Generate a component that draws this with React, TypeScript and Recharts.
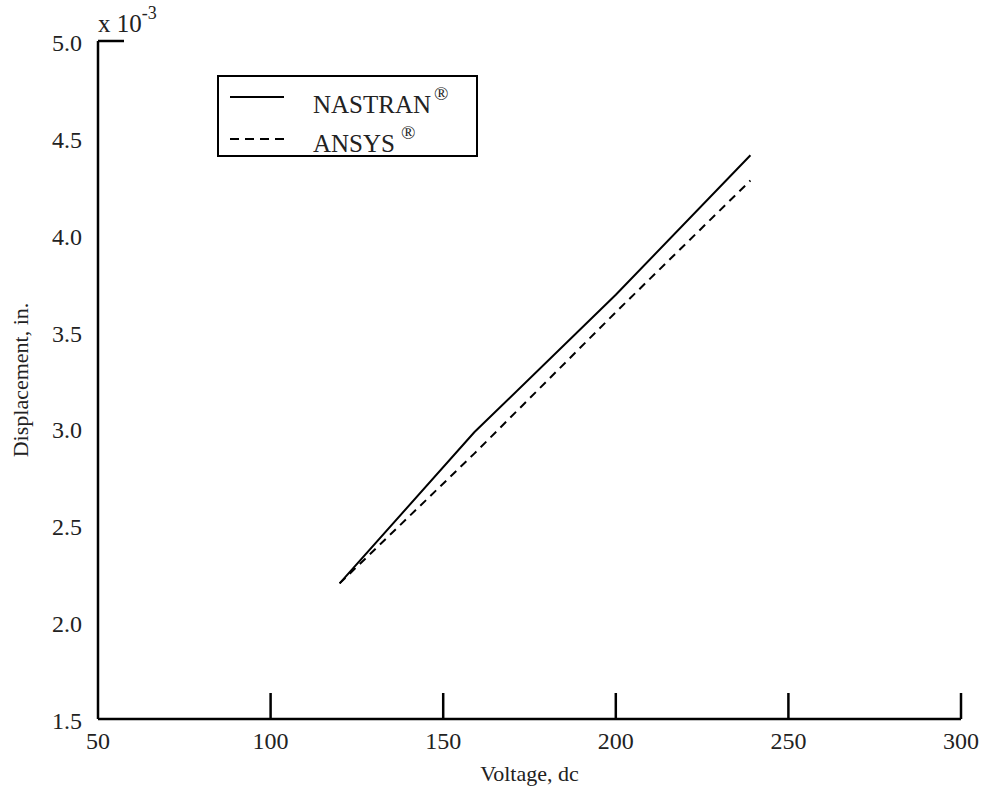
import { LineChart, Line, XAxis, YAxis } from "recharts";

const voltage = [120, 159, 200, 239];
const nastran = [2.2, 2.98, 3.69, 4.41];
const ansys = [2.2, 2.87, 3.6, 4.28];
const xTicks = [50, 100, 150, 200, 250, 300];
const yTicks = [1.5, 2.0, 2.5, 3.0, 3.5, 4.0, 4.5, 5.0];

const data = voltage.map((v, i) => ({ v, nastran: nastran[i], ansys: ansys[i] }));

const FONT = '"Liberation Serif", "DejaVu Serif", serif';
const TICK_LEN = 26;

const XTick = ({ x, y, payload }: any) => (
    <g>
        {payload.value !== 50 && (
            <line x1={x} x2={x} y1={y - TICK_LEN} y2={y} stroke="#000" strokeWidth={2.5} />
        )}
        <text x={x} y={y + 22} textAnchor="middle" dominantBaseline="central" fontSize={24} fontFamily={FONT} fill="#222">
            {payload.value}
        </text>
    </g>
);

const YTick = ({ x, y, payload }: any) => (
    <g>
        {payload.value === 5 && (
            <line x1={x} x2={x + TICK_LEN} y1={y} y2={y} stroke="#000" strokeWidth={2.5} />
        )}
        <text x={x - 16} y={y + 2} textAnchor="end" dominantBaseline="central" fontSize={24} fontFamily={FONT} fill="#222">
            {Number(payload.value).toFixed(1)}
        </text>
    </g>
);

// legend box and the x10^-3 multiplier, drawn on top of the chart
const Overlay = () => (
    <svg
        width={984}
        height={790}
        style={{ position: "absolute", left: 0, top: 0, pointerEvents: "none" }}
        fontFamily={FONT}
        fill="#222"
    >
        <text x={98} y={32} fontSize={25}>
            x 10
            <tspan dy={-13} fontSize={18}>-3</tspan>
        </text>
        <rect x={218} y={76} width={259} height={80} fill="#fff" stroke="#000" strokeWidth={2} />
        <line x1={230} x2={284} y1={97} y2={97} stroke="#000" strokeWidth={2} />
        <line x1={230} x2={284} y1={139} y2={139} stroke="#000" strokeWidth={2} strokeDasharray="9 6" />
        <text x={313} y={113} fontSize={25}>
            NASTRAN
            <tspan dx={3} dy={-13} fontSize={19}>®</tspan>
        </text>
        <text x={313} y={152} fontSize={25}>
            ANSYS
            <tspan dx={6} dy={-13} fontSize={19}>®</tspan>
        </text>
    </svg>
);

export default function App() {
    return (
        <div style={{ position: "absolute", left: 0, top: 0, width: 984, height: 790, background: "#fff" }}>
            <LineChart width={984} height={790} data={data} margin={{ top: 41, right: 23, bottom: 0, left: 0 }}>
                <XAxis
                    dataKey="v"
                    type="number"
                    domain={[50, 300]}
                    ticks={xTicks}
                    height={71}
                    tickSize={0}
                    tickMargin={0}
                    tickLine={false}
                    axisLine={{ stroke: "#000", strokeWidth: 2.5 }}
                    tick={<XTick />}
                    interval={0}
                    label={{
                        value: "Voltage, dc",
                        position: "insideBottom",
                        offset: 9,
                        style: { fontFamily: FONT, fontSize: 22, fill: "#222" },
                    }}
                />
                <YAxis
                    type="number"
                    domain={[1.5, 5]}
                    ticks={yTicks}
                    width={98}
                    tickSize={0}
                    tickMargin={0}
                    tickLine={false}
                    axisLine={{ stroke: "#000", strokeWidth: 2.5 }}
                    tick={<YTick />}
                    interval={0}
                    label={{
                        value: "Displacement, in.",
                        angle: -90,
                        position: "insideLeft",
                        offset: 20,
                        style: { textAnchor: "middle", fontFamily: FONT, fontSize: 22, fill: "#222" },
                    }}
                />
                <Line
                    type="linear"
                    dataKey="nastran"
                    stroke="#000"
                    strokeWidth={2}
                    dot={false}
                    isAnimationActive={false}
                />
                <Line
                    type="linear"
                    dataKey="ansys"
                    stroke="#000"
                    strokeWidth={2}
                    strokeDasharray="8 6"
                    dot={false}
                    isAnimationActive={false}
                />
            </LineChart>
            <Overlay />
        </div>
    );
}
